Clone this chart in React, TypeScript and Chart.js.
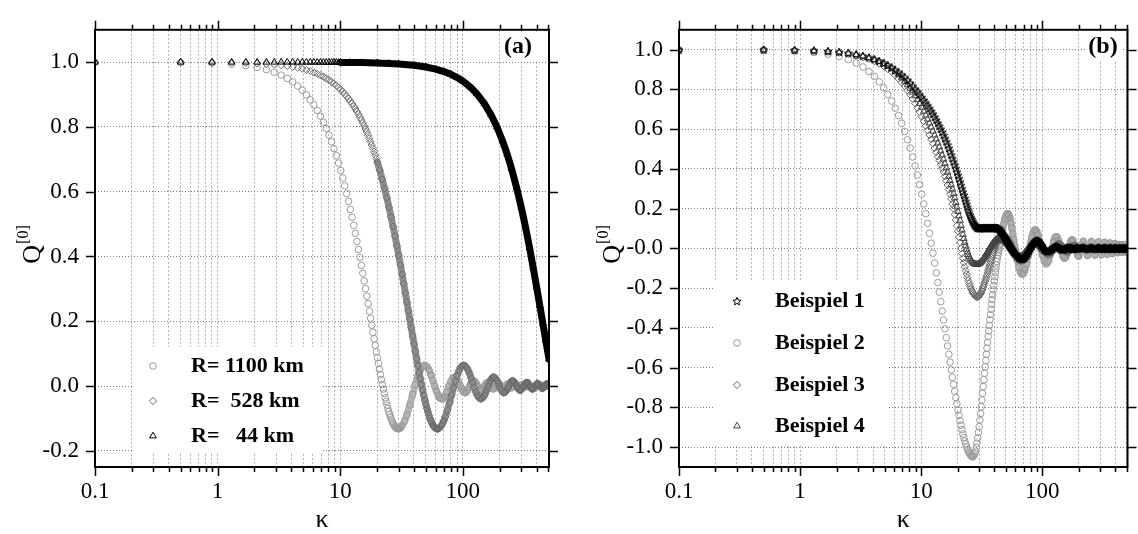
import React, { useEffect, useRef } from "react";
import { Chart, registerables } from "chart.js";
import { drawPoint } from "chart.js/helpers";

Chart.register(...registerables);

// ---------------- axes ----------------
const X_TICKS = [0.1, 0.2, 0.3, 0.4, 0.5, 0.6, 0.7, 0.8, 0.9, 1, 2, 3, 4, 5, 6, 7, 8, 9, 10, 20, 30, 40, 50, 60, 70, 80, 90, 100, 200, 300, 400, 500];
const X_MAJOR = [0.1, 1, 10, 100];
const X_MAJOR_LABELS = ["0.1", "1", "10", "100"];
const X_MIN = 0.1;
const X_MAX = 505;

const LEFT_Y_TICKS = [-0.2, 0, 0.2, 0.4, 0.6, 0.8, 1.0];
const LEFT_Y_LABELS = ["-0.2", "0.0", "0.2", "0.4", "0.6", "0.8", "1.0"];
const LEFT_Y_MIN = -0.25;
const LEFT_Y_MAX = 1.1;

const RIGHT_Y_TICKS = [-1.0, -0.8, -0.6, -0.4, -0.2, 0, 0.2, 0.4, 0.6, 0.8, 1.0];
const RIGHT_Y_LABELS = ["-1.0", "-0.8", "-0.6", "-0.4", "-0.2", "-0.0", "0.2", "0.4", "0.6", "0.8", "1.0"];
const RIGHT_Y_MIN = -1.1;
const RIGHT_Y_MAX = 1.1;

const X_TITLE = "κ";
const Y_TITLE = "Q";
const Y_TITLE_SUP = "[0]";

// ---------------- panel (a) ----------------
const LEFT_LABELS = ["R= 1100 km", "R=  528 km", "R=   44 km"];
const LEFT_PANEL_TAG = "(a)";

const K_1100 = [0.1, 0.5, 0.9, 1.3, 1.7, 2.1, 2.5, 2.9, 3.3, 3.7, 4.1, 4.5, 4.9, 5.3, 5.7, 6.1, 6.5, 6.9, 7.3, 7.7, 8.1, 8.5, 8.9, 9.3, 9.7, 10.1, 10.5, 10.9, 11.3, 11.7, 12.1, 12.5, 12.9, 13.3, 13.7, 14.1, 14.5, 14.9, 15.3, 15.7, 16.1, 16.5, 16.9, 17.3, 17.7, 18.1, 18.5, 18.9, 19.3, 19.7, 20.1, 20.5, 20.9, 21.3, 21.7, 22.1, 22.5, 22.9, 23.3, 23.7, 24.1, 24.5, 24.9, 25.3, 25.7, 26.1, 26.5, 26.9, 27.3, 27.7, 28.1, 28.5, 28.9, 29.3, 29.7, 30.1,
  31, 32, 33.5, 35, 37, 39, 41, 43, 45, 47, 49, 51, 53, 55, 57, 59, 61, 63, 65, 67, 69, 71, 74, 77, 80, 83, 86, 89, 92, 95, 98, 101, 104, 107, 110, 113, 116, 119, 122, 126, 130, 134, 138, 142, 146, 150, 155, 160, 165, 170, 175, 180, 185, 190, 195, 200, 210, 220, 230, 240, 250, 260, 270, 280, 300, 325, 350, 400, 450, 505];
const Q_1100 = [1.0, 0.9991, 0.997, 0.9937, 0.9893, 0.9837, 0.9769, 0.969, 0.96, 0.9499, 0.9388, 0.9265, 0.9133, 0.8991, 0.8839, 0.8678, 0.8509, 0.8331, 0.8145, 0.7951, 0.775, 0.7543, 0.7329, 0.711, 0.6886, 0.6656, 0.6423, 0.6183, 0.5943, 0.5702, 0.5456, 0.5211, 0.4964, 0.4716, 0.4467, 0.422, 0.3974, 0.3728, 0.3485, 0.3245, 0.3005, 0.2772, 0.2543, 0.2313, 0.2094, 0.1877, 0.166, 0.1459, 0.1259, 0.1059, 0.0878, 0.0698, 0.0519, 0.0359, 0.0199, 0.0043, -0.0094, -0.0231, -0.0362, -0.0476, -0.0589, -0.0694, -0.0785, -0.0875, -0.0954, -0.1021, -0.1088, -0.1142, -0.1186, -0.123, -0.126, -0.1282, -0.1305, -0.1313, -0.1318, -0.132,
  -0.1293, -0.1228, -0.1085, -0.089, -0.0584, -0.026, 0.0046, 0.0307, 0.0498, 0.061, 0.0644, 0.06, 0.0494, 0.0344, 0.0172, -0.0002, -0.0158, -0.0283, -0.0366, -0.0397, -0.0382, -0.0324, -0.0188, -0.0006, 0.0141, 0.0246, 0.0278, 0.0239, 0.0144, 0.002, -0.0095, -0.0178, -0.0209, -0.0185, -0.0116, -0.0024, 0.0068, 0.0135, 0.0164, 0.0135, 0.005, -0.0049, -0.0118, -0.0131, -0.0083, 0.0, 0.0085, 0.011, 0.0059, -0.0028, -0.0087, -0.0085, -0.0025, 0.0046, 0.0081, 0.0059, -0.0057, -0.0035, 0.0059, 0.0009, -0.0056, 0.0004, 0.005, -0.0018, 0.003, -0.003, 0.002, -0.002, 0.002, 0.0];

const K_528 = [0.1, 0.5, 0.9, 1.3, 1.7, 2.1, 2.5, 2.9, 3.3, 3.7, 4.1, 4.5, 4.9, 5.3, 5.7, 6.1, 6.5, 6.9, 7.3, 7.7, 8.1, 8.5, 8.9, 9.3, 9.7, 10.1, 10.5, 10.9, 11.3, 11.7, 12.1, 12.5, 12.9, 13.3, 13.7, 14.1, 14.5, 14.9, 15.3, 15.7, 16.1, 16.5, 16.9, 17.3, 17.7, 18.1, 18.5, 18.9, 19.3, 19.7, 20.1,
  21, 22, 23, 24, 25, 26, 27, 28, 29, 30, 31, 32, 33, 34, 35, 36, 37, 38, 39, 40, 41, 42, 43, 44, 45, 46, 47, 48, 49, 50, 51, 52, 53, 54, 55, 56, 57, 58, 59, 60,
  61, 62, 63, 64, 66, 68, 70, 72, 75, 78, 81, 84, 87, 90, 93, 96, 99, 102, 105, 108, 111, 114, 117, 120, 124, 128, 132, 136, 140, 144, 148, 152, 156, 160, 164, 168, 172, 176, 180,
  185, 190, 195, 200, 205, 210, 215, 220, 225, 230, 235, 240, 245, 250, 255, 260, 265, 270, 275, 280, 285, 290, 295, 300, 305, 310, 315, 320, 325, 330, 335, 340, 345, 350, 355, 360, 365, 370, 375, 380, 385, 390, 395, 400, 405, 410, 415, 420, 425, 430, 435, 440, 445, 450, 455, 460, 465, 470, 475, 480, 485, 490, 495, 500, 505];
const Q_528 = [1.0, 0.9998, 0.9993, 0.9986, 0.9975, 0.9962, 0.9946, 0.9928, 0.9907, 0.9883, 0.9857, 0.9827, 0.9796, 0.9761, 0.9724, 0.9684, 0.9642, 0.9598, 0.955, 0.95, 0.9448, 0.9393, 0.9336, 0.9277, 0.9215, 0.9151, 0.9084, 0.9016, 0.8945, 0.8872, 0.8797, 0.8719, 0.864, 0.8559, 0.8475, 0.839, 0.8303, 0.8215, 0.8124, 0.8032, 0.7938, 0.7843, 0.7746, 0.7644, 0.7544, 0.7443, 0.734, 0.7236, 0.713, 0.7023, 0.6916,
  0.6669, 0.6387, 0.6102, 0.5813, 0.5519, 0.5224, 0.4927, 0.463, 0.4331, 0.4034, 0.374, 0.3448, 0.316, 0.2874, 0.2596, 0.2323, 0.2057, 0.1798, 0.1545, 0.1303, 0.1069, 0.0844, 0.063, 0.0426, 0.0232, 0.0048, -0.0123, -0.0283, -0.0431, -0.0568, -0.0693, -0.0807, -0.0908, -0.0999, -0.1077, -0.1144, -0.12, -0.1245, -0.128, -0.1304,
  -0.1317, -0.1323, -0.132, -0.1306, -0.1252, -0.1175, -0.1074, -0.0951, -0.0742, -0.0513, -0.0279, -0.0053, 0.0154, 0.0328, 0.0468, 0.0569, 0.0628, 0.0644, 0.0618, 0.0561, 0.0476, 0.0367, 0.0246, 0.012, -0.0045, -0.0191, -0.0301, -0.0372, -0.0399, -0.038, -0.0323, -0.024, -0.0136, -0.0022, 0.0078, 0.0167, 0.0233, 0.0271, 0.0277,
  0.0243, 0.0173, 0.008, -0.0021, -0.0109, -0.0174, -0.0206, -0.0202, -0.0166, -0.0105, -0.003, 0.0045, 0.0108, 0.0149, 0.0164, 0.0151, 0.0114, 0.006, 0.0, -0.0058, -0.0103, -0.0129, -0.0132, -0.0113, -0.0076, -0.0029, 0.0021, 0.0065, 0.0096, 0.011, 0.0106, 0.0084, 0.0049, 0.0007, -0.0033, -0.0066, -0.0088, -0.0094, -0.0085, -0.0061, -0.0028, 0.0009, 0.0041, 0.0066, 0.0079, 0.008, 0.0066, 0.0042, 0.0011, -0.002, -0.0046, -0.0064, -0.0071, -0.0066, -0.005, -0.0026, 0.0002, 0.0028, 0.0048, 0.006, 0.0063, 0.0054, 0.0037, 0.0013, -0.0011];

const K_44 = [0.1, 0.5, 0.9, 1.3, 1.7, 2.1, 2.5, 2.9, 3.3, 3.7, 4.1, 4.5, 4.9, 5.3, 5.7, 6.1, 6.5, 6.9, 7.3, 7.7, 8.1, 8.5, 8.9, 9.3, 9.7, 10.1,
  12, 15, 20, 25, 30, 40, 50, 60, 70, 80, 90, 100, 115, 130, 150, 170, 190, 210, 230, 250, 275, 300, 325, 350, 375, 400, 425, 450, 475, 505];
const Q_44 = [1.0, 1.0, 1.0, 1.0, 1.0, 1.0, 1.0, 1.0, 1.0, 1.0, 0.9999, 0.9999, 0.9999, 0.9999, 0.9998, 0.9998, 0.9998, 0.9998, 0.9997, 0.9997, 0.9996, 0.9996, 0.9996, 0.9995, 0.9995, 0.9994,
  0.9991, 0.9987, 0.9976, 0.9963, 0.9946, 0.9905, 0.9852, 0.9787, 0.971, 0.9624, 0.9526, 0.9417, 0.9234, 0.9028, 0.8719, 0.8376, 0.8, 0.759, 0.7164, 0.671, 0.6123, 0.5518, 0.4902, 0.4282, 0.3667, 0.3065, 0.2485, 0.1931, 0.1409, 0.0833];

// ---------------- panel (b) ----------------
const RIGHT_LABELS = ["Beispiel 1", "Beispiel 2", "Beispiel 3", "Beispiel 4"];
const RIGHT_PANEL_TAG = "(b)";

const K_B = [0.1, 0.5, 0.9, 1.3, 1.7, 2.1, 2.5, 2.9, 3.3, 3.7, 4.1, 4.5, 4.9, 5.3, 5.7, 6.1, 6.5, 6.9, 7.3, 7.7, 8.1, 8.5, 8.9, 9.3, 9.7, 10.1, 10.5, 10.9, 11.3, 11.7, 12.1, 12.5, 12.9, 13.3, 13.7, 14.1, 14.5, 14.9, 15.3, 15.7, 16.1, 16.5, 16.9, 17.3, 17.7, 18.1, 18.5, 18.9, 19.3, 19.7, 20.1, 20.5, 20.9, 21.3, 21.7, 22.1, 22.5, 22.9, 23.3, 23.7, 24.1, 24.5, 24.9, 25.3, 25.7, 26.1, 26.5, 26.9, 27.3, 27.7, 28.1, 28.5, 28.9, 29.3, 29.7, 30.1, 30.5, 30.9, 31.3, 31.7, 32.1, 32.5, 32.9, 33.3, 33.7, 34.1, 34.5, 34.9, 35.3, 35.7, 36.1, 36.5, 36.9, 37.3, 37.7, 38.1, 38.5, 38.9, 39.3, 39.7, 40.1, 40.5, 40.9, 41.3, 41.7, 42.1, 42.5, 42.9, 43.3, 43.7, 44.1, 44.5, 44.9, 45.3,
  46, 47, 48, 49, 50, 51, 52, 53, 54, 55, 56, 57, 58, 59, 60,
  62, 64, 66, 68, 70, 72, 74, 76, 78, 80, 82, 84, 86, 88, 90, 92, 94, 96, 98, 100,
  104, 108, 112, 116, 120, 124, 128, 132, 136, 140, 144, 148, 152, 156, 160, 164, 168, 172, 176, 180, 184, 188, 192, 196, 200,
  209, 218, 227, 236, 245, 254, 263, 272, 281, 290, 299, 308, 317, 326, 335, 344, 353, 362, 371, 380, 389, 398, 407, 416, 425, 434, 443, 452, 461, 470, 479, 488, 497, 505];

const Q_B1 = [1.0, 1.0, 0.998, 0.996, 0.993, 0.989, 0.984, 0.976, 0.969, 0.961,
  0.952, 0.943, 0.933, 0.922, 0.911, 0.899, 0.887, 0.874, 0.861, 0.847,
  0.833, 0.818, 0.803, 0.789, 0.775, 0.761, 0.747, 0.733, 0.719, 0.705,
  0.691, 0.677, 0.662, 0.647, 0.632, 0.617, 0.602, 0.586, 0.57, 0.554,
  0.538, 0.522, 0.505, 0.488, 0.471, 0.454, 0.437, 0.42, 0.403, 0.386,
  0.369, 0.352, 0.335, 0.318, 0.301, 0.285, 0.269, 0.253, 0.238, 0.223,
  0.208, 0.194, 0.181, 0.169, 0.158, 0.148, 0.139, 0.131, 0.124, 0.118,
  0.113, 0.109, 0.106, 0.104, 0.103, 0.102,
  0.102, 0.102, 0.102, 0.103, 0.103, 0.103, 0.103, 0.103, 0.103, 0.103, 0.103, 0.103, 0.103, 0.103, 0.103, 0.103, 0.103, 0.103, 0.103, 0.103, 0.103, 0.103, 0.103, 0.103, 0.103, 0.103, 0.103, 0.103, 0.103, 0.102, 0.102, 0.102,
  0.101, 0.099, 0.097, 0.094, 0.091, 0.087,
  0.082, 0.074, 0.065, 0.056, 0.047, 0.038, 0.029, 0.02, 0.012, 0.004, -0.004, -0.011, -0.018, -0.024, -0.03,
  -0.04, -0.047, -0.052, -0.053, -0.05, -0.044, -0.035, -0.024, -0.012, 0.0, 0.012, 0.022, 0.03, 0.036, 0.039, 0.038, 0.034, 0.027, 0.018, 0.009,
  -0.006, -0.014, -0.015, -0.01, -0.003, 0.004, 0.008, 0.008, 0.004, -0.001, -0.005, -0.006, -0.004, 0.0, 0.003, 0.004, 0.003, 0.0, -0.003, -0.003, -0.002, 0.001, 0.003, 0.002, 0.0,
  0.001, 0.002, 0.0, -0.002, 0.0, 0.002, 0.0, -0.002, 0.0, 0.002, 0.0, -0.002, 0.0, 0.002, 0.0, -0.002, 0.0, 0.002, 0.0, -0.002, 0.0, 0.002, 0.0, -0.002, 0.0, 0.002, 0.0, -0.001, 0.0, 0.001, 0.0, -0.001, 0.0, 0.0];

const Q_B2 = [1.0, 0.998, 0.994, 0.986, 0.977, 0.965, 0.95, 0.933, 0.913, 0.89,
  0.866, 0.838, 0.808, 0.775, 0.741, 0.706, 0.668, 0.63, 0.589, 0.547,
  0.505, 0.46, 0.415, 0.369, 0.321, 0.273, 0.224, 0.175, 0.126, 0.076,
  0.026, -0.024, -0.074, -0.123, -0.172, -0.22, -0.268, -0.315, -0.36, -0.405,
  -0.449, -0.491, -0.533, -0.572, -0.611, -0.649, -0.684, -0.719, -0.751, -0.783,
  -0.813, -0.84, -0.866, -0.89, -0.912, -0.934, -0.952, -0.97, -0.984, -0.998,
  -1.01, -1.02, -1.03, -1.036, -1.042, -1.046, -1.049, -1.047, -1.04, -1.031,
  -1.02, -1.0, -0.98, -0.954, -0.926, -0.897, -0.864, -0.831, -0.797, -0.763,
  -0.729, -0.695, -0.661, -0.628, -0.596, -0.564, -0.533, -0.502, -0.473, -0.443,
  -0.415, -0.387, -0.359, -0.333, -0.307, -0.281, -0.257, -0.233, -0.209, -0.187,
  -0.164, -0.143, -0.122, -0.103, -0.084, -0.066, -0.05, -0.034, -0.021, -0.009,
  0.003, 0.015, 0.027, 0.04,
  0.062, 0.095, 0.124, 0.148, 0.164, 0.173, 0.175, 0.168, 0.152, 0.13, 0.103, 0.074, 0.044, 0.015, -0.012,
  -0.058, -0.095, -0.12, -0.13, -0.125, -0.107, -0.078, -0.043, -0.007, 0.028, 0.058, 0.08, 0.092, 0.094, 0.086, 0.069, 0.046, 0.019, -0.008, -0.032,
  -0.066, -0.078, -0.065, -0.035, 0.002, 0.036, 0.057, 0.058, 0.041, 0.013, -0.017, -0.04, -0.05, -0.045, -0.027, -0.003, 0.021, 0.038, 0.044, 0.038, 0.022, 0.001, -0.02, -0.035, -0.04,
  0.014, 0.036, -0.011, -0.036, 0.007, 0.035, -0.004, -0.034, 0.001, 0.033, 0.001, -0.032, -0.004, 0.031, 0.006, -0.03, -0.009, 0.028, 0.01, -0.026, -0.012, 0.024, 0.014, -0.022, -0.016, 0.02, 0.017, -0.019, -0.019, 0.018, 0.02, -0.016, -0.02, 0.009];

const Q_B3 = [1.0, 0.999, 0.997, 0.994, 0.99, 0.985, 0.978, 0.971, 0.962, 0.953,
  0.942, 0.93, 0.917, 0.903, 0.888, 0.871, 0.854, 0.835, 0.816, 0.795,
  0.774, 0.752, 0.73, 0.708, 0.686, 0.663, 0.64, 0.617, 0.594, 0.571,
  0.549, 0.527, 0.505, 0.484, 0.463, 0.443, 0.423, 0.404, 0.384, 0.363,
  0.341, 0.319, 0.296, 0.273, 0.249, 0.224, 0.2, 0.171, 0.143, 0.114,
  0.086, 0.057, 0.029, 0.0, -0.026, -0.05, -0.072, -0.093, -0.112, -0.13,
  -0.147, -0.162, -0.176, -0.189, -0.2, -0.21, -0.219, -0.226, -0.232, -0.237,
  -0.241, -0.243, -0.245, -0.244, -0.242, -0.238, -0.233, -0.227, -0.22, -0.212,
  -0.204, -0.195, -0.186, -0.176, -0.166, -0.156, -0.145, -0.134, -0.123, -0.112,
  -0.101, -0.09, -0.079, -0.068, -0.058, -0.048, -0.038, -0.028, -0.019, -0.01,
  -0.002, 0.005, 0.012, 0.019, 0.025, 0.031, 0.036, 0.041, 0.045, 0.049,
  0.052, 0.055, 0.057, 0.059,
  0.061, 0.063, 0.063, 0.061, 0.057, 0.051, 0.044, 0.036, 0.027, 0.018, 0.008, -0.002, -0.012, -0.021, -0.03,
  -0.045, -0.056, -0.062, -0.063, -0.059, -0.05, -0.038, -0.024, -0.009, 0.006, 0.019, 0.03, 0.038, 0.042, 0.042, 0.039, 0.033, 0.024, 0.014, 0.004,
  -0.015, -0.027, -0.031, -0.027, -0.017, -0.004, 0.009, 0.019, 0.024, 0.022, 0.015, 0.005, -0.006, -0.014, -0.018, -0.017, -0.011, -0.003, 0.006, 0.012, 0.014, 0.012, 0.006, -0.001, -0.007,
  0.004, 0.009, -0.003, -0.009, 0.002, 0.009, -0.001, -0.008, 0.0, 0.008, 0.0, -0.008, -0.001, 0.008, 0.002, -0.007, -0.002, 0.007, 0.003, -0.006, -0.003, 0.006, 0.004, -0.005, -0.004, 0.005, 0.004, -0.005, -0.005, 0.004, 0.005, -0.004, -0.005, 0.002];

const Q_B4 = [1.0, 0.999, 0.998, 0.995, 0.991, 0.987, 0.981, 0.975, 0.968, 0.959,
  0.95, 0.94, 0.928, 0.916, 0.903, 0.889, 0.874, 0.858, 0.841, 0.823,
  0.805, 0.786, 0.767, 0.748, 0.729, 0.71, 0.69, 0.67, 0.65, 0.63,
  0.61, 0.59, 0.57, 0.55, 0.53, 0.51, 0.49, 0.47, 0.449, 0.427,
  0.405, 0.383, 0.362, 0.341, 0.32, 0.298, 0.276, 0.254, 0.231, 0.208,
  0.185, 0.163, 0.141, 0.115, 0.092, 0.07, 0.049, 0.03, 0.012, -0.004,
  -0.018, -0.031, -0.042, -0.051, -0.059, -0.065, -0.07, -0.074, -0.077, -0.079,
  -0.08, -0.081, -0.081, -0.08, -0.079, -0.077, -0.074, -0.071, -0.067, -0.063,
  -0.058, -0.053, -0.048, -0.043, -0.038, -0.033, -0.027, -0.022, -0.017, -0.012,
  -0.007, -0.002, 0.003, 0.008, 0.012, 0.016, 0.02, 0.024, 0.028, 0.031,
  0.034, 0.037, 0.04, 0.042, 0.044, 0.046, 0.048, 0.049, 0.05, 0.051,
  0.051, 0.051, 0.05, 0.049,
  0.047, 0.044, 0.04, 0.035, 0.03, 0.024, 0.018, 0.011, 0.005, -0.002, -0.008, -0.014, -0.019, -0.024, -0.028,
  -0.035, -0.039, -0.04, -0.038, -0.033, -0.026, -0.017, -0.007, 0.003, 0.012, 0.02, 0.026, 0.029, 0.03, 0.028, 0.024, 0.018, 0.011, 0.003, -0.004,
  -0.014, -0.019, -0.018, -0.012, -0.004, 0.004, 0.01, 0.012, 0.01, 0.004, -0.002, -0.007, -0.009, -0.007, -0.003, 0.002, 0.006, 0.007, 0.005, 0.001, -0.003, -0.005, -0.004, -0.001, 0.002,
  0.002, 0.004, -0.001, -0.004, 0.001, 0.004, 0.0, -0.004, 0.0, 0.004, 0.0, -0.003, 0.0, 0.003, 0.001, -0.003, -0.001, 0.003, 0.001, -0.003, -0.001, 0.003, 0.002, -0.002, -0.002, 0.002, 0.002, -0.002, -0.002, 0.002, 0.002, -0.002, -0.002, 0.001];

// ---------------- styling ----------------
const FONT = "'Liberation Serif', 'Times New Roman', serif";
const TICK_SIZE = 23;
const BAND_WIDTH = 7;

function makeStar(size: number, color: string) {
  const c = document.createElement("canvas");
  c.width = size;
  c.height = size;
  const g = c.getContext("2d")!;
  g.strokeStyle = color;
  g.lineWidth = 1;
  const cx = size / 2, cy = size / 2 + 0.5, R = size / 2 - 0.8, r = R * 0.45;
  g.beginPath();
  for (let i = 0; i < 10; i++) {
    const a = -Math.PI / 2 + (i * Math.PI) / 5;
    const rad = i % 2 ? r : R;
    const px = cx + rad * Math.cos(a), py = cy + rad * Math.sin(a);
    if (i === 0) g.moveTo(px, py); else g.lineTo(px, py);
  }
  g.closePath();
  g.stroke();
  return c;
}

type Series = { label: string; k: number[]; q: number[]; color: string; band: string; pointStyle: any; radius: number; bandFrom: number; order: number };

type Panel = {
  series: Series[];
  yMin: number; yMax: number; yTicks: number[]; yLabels: string[];
  yAxisWidth: number; padRight: number;
  legendBox: [number, number, number, number];
  legendY: number[]; legendMarkerX: number; legendTextX: number;
  tag: string; tagX: number; tagY: number; tagBox: [number, number, number, number];
  qX: number; qY: number; kY: number;
};

function makeDataset(s: Series) {
  return {
    label: s.label,
    data: s.k.map((x, i) => ({ x, y: s.q[i] })),
    showLine: true,
    borderColor: s.band,
    borderWidth: BAND_WIDTH,
    borderJoinStyle: "round",
    borderCapStyle: "round",
    segment: {
      borderColor: (ctx: any) => (s.k[ctx.p0DataIndex] >= s.bandFrom ? s.band : "rgba(0,0,0,0)"),
    },
    pointStyle: s.pointStyle,
    pointRadius: s.radius,
    pointBorderWidth: 1,
    pointBorderColor: s.color,
    pointBackgroundColor: "rgba(0,0,0,0)",
    order: s.order,
    tension: 0,
    clip: 0,
  };
}

function decorPlugin(p: Panel) {
  return {
    id: "decor",
    beforeDatasetsDraw(chart: any) {
      const { ctx } = chart;
      ctx.save();
      ctx.fillStyle = "#ffffff";
      const [bx, by, bw, bh] = p.legendBox;
      ctx.fillRect(bx, by, bw, bh);
      const [tx, ty, tw, th] = p.tagBox;
      ctx.fillRect(tx, ty, tw, th);
      p.series.forEach((s, i) => {
        ctx.strokeStyle = s.color;
        ctx.fillStyle = "rgba(0,0,0,0)";
        ctx.lineWidth = 1;
        drawPoint(ctx, { pointStyle: s.pointStyle, radius: s.radius, borderWidth: 1, rotation: 0 } as any, p.legendMarkerX, p.legendY[i]);
        ctx.fillStyle = "#000";
        ctx.font = `bold 22px ${FONT}`;
        ctx.textAlign = "left";
        ctx.textBaseline = "middle";
        ctx.fillText(s.label, p.legendTextX, p.legendY[i]);
      });
      ctx.font = `bold 24px ${FONT}`;
      ctx.textAlign = "center";
      ctx.textBaseline = "middle";
      ctx.fillStyle = "#000";
      ctx.fillText(p.tag, p.tagX, p.tagY);
      ctx.restore();
    },
    afterDatasetsDraw(chart: any) {
      const { ctx, chartArea: a, scales } = chart;
      const x = scales.x, y = scales.y;
      ctx.save();
      ctx.strokeStyle = "#000";
      ctx.lineWidth = 1.5;
      ctx.beginPath();
      for (const v of X_TICKS) {
        const px = Math.round(x.getPixelForValue(v)) + 0.5;
        const len = X_MAJOR.includes(v) ? 9 : 5;
        ctx.moveTo(px, a.top); ctx.lineTo(px, a.top - len);
        ctx.moveTo(px, a.bottom); ctx.lineTo(px, a.bottom + len);
      }
      for (const v of p.yTicks) {
        const py = Math.round(y.getPixelForValue(v)) + 0.5;
        ctx.moveTo(a.left - 9, py); ctx.lineTo(a.left, py);
        ctx.moveTo(a.right, py); ctx.lineTo(a.right + 9, py);
      }
      ctx.stroke();
      ctx.lineWidth = 2;
      ctx.strokeRect(a.left, a.top, a.right - a.left, a.bottom - a.top);
      ctx.restore();
    },
    afterDraw(chart: any) {
      const { ctx, chartArea: a } = chart;
      ctx.save();
      ctx.fillStyle = "#000";
      ctx.font = `26px ${FONT}`;
      ctx.textAlign = "center";
      ctx.textBaseline = "middle";
      ctx.fillText(X_TITLE, (a.left + a.right) / 2, p.kY);
      ctx.translate(p.qX, p.qY);
      ctx.rotate(-Math.PI / 2);
      ctx.font = `26px ${FONT}`;
      const wq = ctx.measureText(Y_TITLE).width;
      ctx.font = `16px ${FONT}`;
      const ws = ctx.measureText(Y_TITLE_SUP).width;
      const start = -(wq + ws) / 2;
      ctx.textAlign = "left";
      ctx.font = `26px ${FONT}`;
      ctx.fillText(Y_TITLE, start, 0);
      ctx.font = `16px ${FONT}`;
      ctx.fillText(Y_TITLE_SUP, start + wq + 1, -9);
      ctx.restore();
    },
  };
}

function makeChart(canvas: HTMLCanvasElement, p: Panel) {
  const yTickIdx = (v: number) => p.yTicks.findIndex((t) => Math.abs(t - v) < 1e-9);
  return new Chart(canvas, {
    type: "scatter",
    data: { datasets: p.series.map(makeDataset) as any },
    options: {
      animation: false,
      responsive: false,
      devicePixelRatio: 1,
      events: [],
      layout: { padding: { left: 0, right: p.padRight, top: 13, bottom: 0 } },
      plugins: { legend: { display: false }, tooltip: { enabled: false } },
      scales: {
        x: {
          type: "logarithmic",
          min: X_MIN,
          max: X_MAX,
          afterBuildTicks: (s: any) => { s.ticks = X_TICKS.map((v) => ({ value: v, major: X_MAJOR.includes(v) })); },
          afterFit: (s: any) => { s.height = 67; },
          ticks: {
            autoSkip: false,
            maxRotation: 0,
            minRotation: 0,
            padding: 11,
            color: "#000",
            font: { family: FONT, size: TICK_SIZE },
            callback: (v: any) => { const i = X_MAJOR.indexOf(Number(v)); return i >= 0 ? X_MAJOR_LABELS[i] : ""; },
          },
          grid: { color: "#b0b0b0", lineWidth: 1, drawTicks: false, borderDash: [2, 2] } as any,
          border: { display: false, dash: [2, 2] },
        },
        y: {
          type: "linear",
          min: p.yMin,
          max: p.yMax,
          afterBuildTicks: (s: any) => { s.ticks = p.yTicks.map((v) => ({ value: v })); },
          afterFit: (s: any) => { s.width = p.yAxisWidth; },
          ticks: {
            padding: 16,
            color: "#000",
            font: { family: FONT, size: TICK_SIZE },
            callback: (v: any) => { const i = yTickIdx(Number(v)); return i >= 0 ? p.yLabels[i] : ""; },
          },
          grid: { color: "#7a7a7a", lineWidth: 1, drawTicks: false, borderDash: [1, 2] } as any,
          border: { display: false, dash: [1, 2] },
        },
      },
    } as any,
    plugins: [decorPlugin(p)],
  });
}

export default function App() {
  const leftRef = useRef<HTMLCanvasElement>(null);
  const rightRef = useRef<HTMLCanvasElement>(null);

  useEffect(() => {
    const star = makeStar(10, "#000000");
    const left: Panel = {
      series: [
        { label: LEFT_LABELS[0], k: K_1100, q: Q_1100, color: "#9a9a9a", band: "#b4b4b4", pointStyle: "circle", radius: 3.3, bandFrom: 30, order: 3 },
        { label: LEFT_LABELS[1], k: K_528, q: Q_528, color: "#6a6a6a", band: "#8e8e8e", pointStyle: "rectRot", radius: 3.6, bandFrom: 20, order: 2 },
        { label: LEFT_LABELS[2], k: K_44, q: Q_44, color: "#000000", band: "#000000", pointStyle: "triangle", radius: 3.8, bandFrom: 10, order: 1 },
      ],
      yMin: LEFT_Y_MIN, yMax: LEFT_Y_MAX, yTicks: LEFT_Y_TICKS, yLabels: LEFT_Y_LABELS,
      yAxisWidth: 95, padRight: 20,
      legendBox: [132, 347, 191, 105],
      legendY: [366, 401, 436], legendMarkerX: 153, legendTextX: 191,
      tag: LEFT_PANEL_TAG, tagX: 518, tagY: 47, tagBox: [500, 33, 38, 28],
      qX: 33, qY: 245, kY: 520,
    };
    const right: Panel = {
      series: [
        { label: RIGHT_LABELS[0], k: K_B, q: Q_B1, color: "#000000", band: "#111111", pointStyle: star, radius: 4, bandFrom: 45, order: 1 },
        { label: RIGHT_LABELS[1], k: K_B, q: Q_B2, color: "#9a9a9a", band: "#b0b0b0", pointStyle: "circle", radius: 3.3, bandFrom: 45, order: 4 },
        { label: RIGHT_LABELS[2], k: K_B, q: Q_B3, color: "#666666", band: "#808080", pointStyle: "rectRot", radius: 3.6, bandFrom: 45, order: 3 },
        { label: RIGHT_LABELS[3], k: K_B, q: Q_B4, color: "#444444", band: "#5c5c5c", pointStyle: "triangle", radius: 3.8, bandFrom: 45, order: 2 },
      ],
      yMin: RIGHT_Y_MIN, yMax: RIGHT_Y_MAX, yTicks: RIGHT_Y_TICKS, yLabels: RIGHT_Y_LABELS,
      yAxisWidth: 110, padRight: 6,
      legendBox: [146, 281, 173, 164],
      legendY: [301, 343, 385, 426], legendMarkerX: 168, legendTextX: 206,
      tag: RIGHT_PANEL_TAG, tagX: 534, tagY: 47, tagBox: [516, 33, 36, 28],
      qX: 44, qY: 245, kY: 520,
    };
    const c1 = makeChart(leftRef.current!, left);
    const c2 = makeChart(rightRef.current!, right);
    return () => { c1.destroy(); c2.destroy(); };
  }, []);

  return (
    <div style={{ position: "absolute", left: 0, top: 0, width: 1138, height: 534, background: "#fff" }}>
      <canvas ref={leftRef} width={569} height={534} style={{ position: "absolute", left: 0, top: 0, width: 569, height: 534 }} />
      <canvas ref={rightRef} width={569} height={534} style={{ position: "absolute", left: 569, top: 0, width: 569, height: 534 }} />
    </div>
  );
}
